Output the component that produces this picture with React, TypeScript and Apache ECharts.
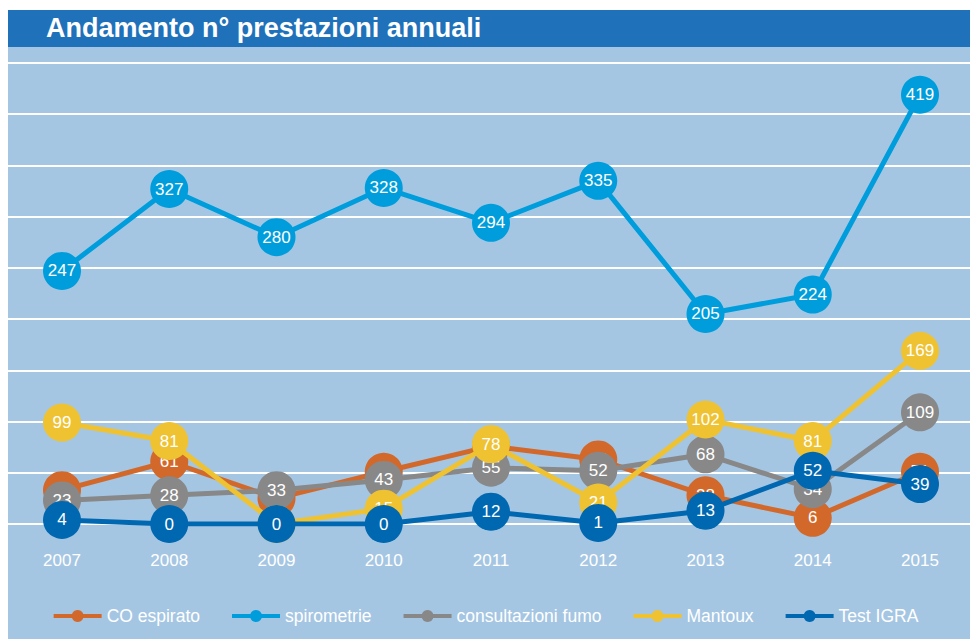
import React, { useEffect, useRef } from "react";
import * as echarts from "echarts";

const years = ["2007", "2008", "2009", "2010", "2011", "2012", "2013", "2014", "2015"];
const coEspirato = [33, 61, 25, 51, 76, 63, 28, 6, 51];
const spirometrie = [247, 327, 280, 328, 294, 335, 205, 224, 419];
const consultazioniFumo = [23, 28, 33, 43, 55, 52, 68, 34, 109];
const mantoux = [99, 81, 0, 15, 78, 21, 102, 81, 169];
const testIgra = [4, 0, 0, 0, 12, 1, 13, 52, 39];
// points whose label is fully hidden behind other markers in the reference
const coHiddenLabels = [2, 4];

const seriesDefs = [
  { name: "CO espirato", data: coEspirato, color: "#d2692b", hidden: coHiddenLabels },
  { name: "spirometrie", data: spirometrie, color: "#009ddc", hidden: [] as number[] },
  { name: "consultazioni fumo", data: consultazioniFumo, color: "#888888", hidden: [] as number[] },
  { name: "Mantoux", data: mantoux, color: "#efc232", hidden: [] as number[] },
  { name: "Test IGRA", data: testIgra, color: "#0068b1", hidden: [] as number[] },
];

const FONT = "'Liberation Sans', Arial, Helvetica, sans-serif";

export default function App() {
  const ref = useRef<HTMLDivElement>(null);
  useEffect(() => {
    if (!ref.current) return;
    const chart = echarts.init(ref.current, null, { renderer: "svg" });
    chart.setOption({
      animation: false,
      backgroundColor: "#a5c6e3",
      graphic: [
        { type: "rect", left: 0, top: 0, z: 100, shape: { width: 970, height: 10 }, style: { fill: "#ffffff" } },
        { type: "rect", left: 0, top: 0, z: 100, shape: { width: 8, height: 639 }, style: { fill: "#ffffff" } },
        { type: "rect", left: 8, top: 10, z: 100, shape: { width: 962, height: 37 }, style: { fill: "#1f71ba" } },
        {
          type: "text",
          left: 46,
          top: 14,
          z: 101,
          style: {
            text: "Andamento n° prestazioni annuali",
            fill: "#ffffff",
            font: `bold 27px ${FONT}`,
          },
        },
      ],
      legend: {
        bottom: 9,
        left: "center",
        itemWidth: 48,
        itemHeight: 15,
        itemGap: 30,
        lineStyle: { width: 4 },
        textStyle: { color: "#ffffff", fontSize: 17.5, fontFamily: FONT },
        data: seriesDefs.map((s) => s.name),
      },
      grid: [
        { left: 8, right: 0, top: 63, bottom: 115 },
        { left: 62, right: 50, top: 63, bottom: 115 },
      ],
      xAxis: [
        { type: "value", gridIndex: 0, show: false, min: 0, max: 1 },
        {
          type: "category",
          gridIndex: 1,
          data: years,
          boundaryGap: false,
          axisLine: { show: false },
          axisTick: { show: false },
          splitLine: { show: false },
          axisLabel: { color: "#ffffff", fontSize: 17, fontFamily: FONT, margin: 28 },
        },
      ],
      yAxis: [
        {
          type: "value",
          gridIndex: 0,
          min: 0,
          max: 450,
          interval: 50,
          axisLine: { show: false },
          axisTick: { show: false },
          axisLabel: { show: false },
          splitLine: { lineStyle: { color: "#ffffff", width: 2 } },
        },
        {
          type: "value",
          gridIndex: 1,
          min: 0,
          max: 450,
          interval: 50,
          show: false,
          splitLine: { show: false },
        },
      ],
      series: seriesDefs.map((s, i) => ({
        name: s.name,
        type: "line",
        xAxisIndex: 1,
        yAxisIndex: 1,
        data: s.data.map((v, j) =>
          s.hidden.includes(j) ? { value: v, label: { show: false } } : v
        ),
        z: 2 + i,
        symbol: "circle",
        symbolSize: 38,
        color: s.color,
        lineStyle: { color: s.color, width: 5 },
        itemStyle: { color: s.color },
        label: {
          show: true,
          position: "inside",
          color: "#ffffff",
          fontSize: 17,
          fontFamily: FONT,
        },
        emphasis: { disabled: true },
      })),
    });
    return () => chart.dispose();
  }, []);
  return (
    <div
      ref={ref}
      style={{ position: "fixed", left: 0, top: 0, width: 970, height: 639 }}
    />
  );
}
